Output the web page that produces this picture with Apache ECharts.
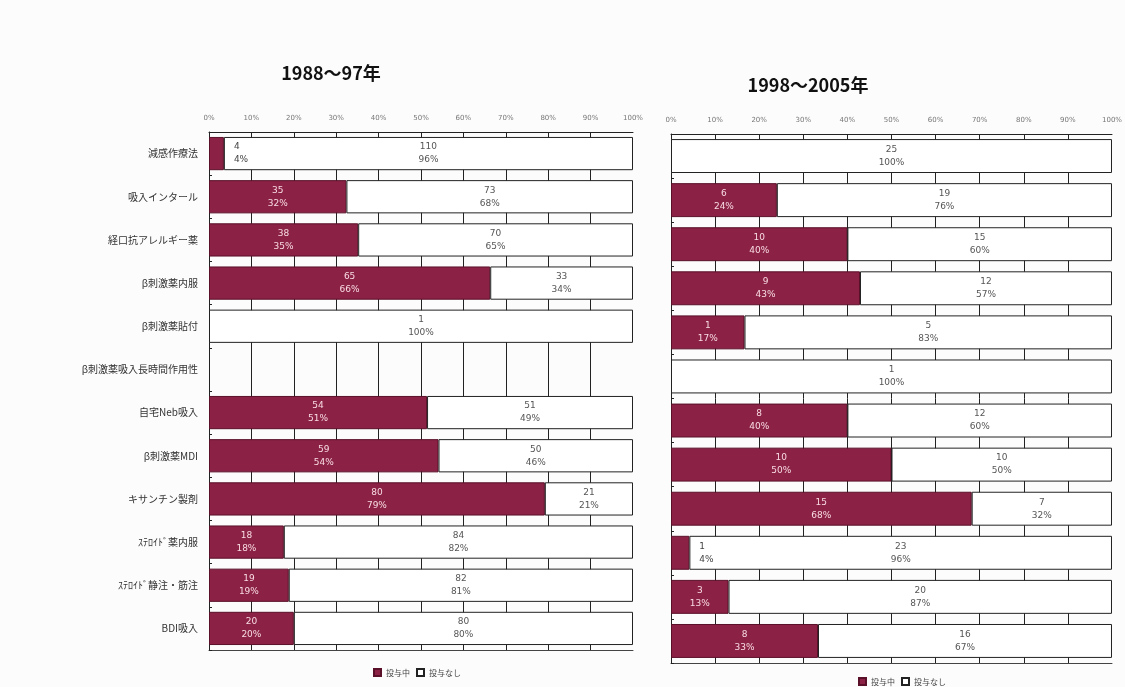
<!DOCTYPE html>
<html>
<head>
<meta charset="utf-8">
<script src="https://cdn.jsdelivr.net/npm/echarts@6/dist/echarts.min.js"></script>
<style>
  html, body { margin: 0; padding: 0; background: #fcfcfc; }
  #chart { width: 1125px; height: 687px; }
</style>
</head>
<body>
<div id="chart"></div>
<script>
// Drug classes (rows, top to bottom)
const categories = [
  '減感作療法',
  '吸入インタール',
  '経口抗アレルギー薬',
  'β刺激薬内服',
  'β刺激薬貼付',
  'β刺激薬吸入長時間作用性',
  '自宅Neb吸入',
  'β刺激薬MDI',
  'キサンチン製剤',
  'ｽﾃﾛｲﾄﾞ薬内服',
  'ｽﾃﾛｲﾄﾞ静注・筋注',
  'BDI吸入'
];

// Case counts, 1988–97
const earlyGiven = [4, 35, 38, 65, 0, 0, 54, 59, 80, 18, 19, 20];
const earlyNone  = [110, 73, 70, 33, 1, 0, 51, 50, 21, 84, 82, 80];

// Case counts, 1998–2005
const lateGiven = [0, 6, 10, 9, 1, 0, 8, 10, 15, 1, 3, 8];
const lateNone  = [25, 19, 15, 12, 5, 1, 12, 10, 7, 23, 20, 16];

const seriesNames = ['投与中', '投与なし'];
const periodTitles = ['1988〜97年', '1998〜2005年'];

const BAR_COLOR = '#8b2145';
const CJK = "'Noto Sans CJK JP', 'DejaVu Sans', sans-serif";

// Turn counts into 100%-stacked shares, keeping count and rounded percent for labels
function shareItems(part, other, dark) {
  return part.map((v, i) => {
    const total = v + other[i];
    const share = total ? v / total * 100 : 0;
    const pct = total ? Math.round(share) : 0;
    const item = { value: share, count: v, pct: pct };
    if (v === 0) {
      item.label = { show: false };
      item.itemStyle = { borderWidth: 0 };
    } else if (dark && pct < 8) {
      item.label = { position: 'right', distance: 10, color: '#444' };
    }
    return item;
  });
}

function barSeries(given, none, idx) {
  const fmt = p => p.data.count + '\n' + p.data.pct + '%';
  return [
    {
      name: seriesNames[0], type: 'bar', stack: 's' + idx,
      xAxisIndex: idx * 2, yAxisIndex: idx,
      barCategoryGap: '23%',
      itemStyle: { color: BAR_COLOR, borderColor: '#5a1029', borderWidth: 1 },
      label: { show: true, position: 'inside', formatter: fmt,
               color: '#f8dbe2', fontSize: 9, lineHeight: 13, fontFamily: 'DejaVu Sans' },
      data: shareItems(given, none, true)
    },
    {
      name: seriesNames[1], type: 'bar', stack: 's' + idx,
      xAxisIndex: idx * 2, yAxisIndex: idx,
      barCategoryGap: '23%',
      itemStyle: { color: '#ffffff', borderColor: '#222', borderWidth: 1 },
      label: { show: true, position: 'inside', formatter: fmt,
               color: '#555', fontSize: 9, lineHeight: 13, fontFamily: 'DejaVu Sans' },
      data: shareItems(none, given, false)
    }
  ];
}

function valueAxes(gridIndex) {
  return [
    {
      type: 'value', gridIndex: gridIndex, position: 'top',
      min: 0, max: 100, interval: 10,
      axisLine: { show: true, lineStyle: { color: '#222', width: 1 } },
      axisTick: { show: false },
      axisLabel: { formatter: '{value}%', fontSize: 7, color: '#777', margin: 10,
                   fontFamily: 'DejaVu Sans' },
      splitLine: { show: true, showMaxLine: false, lineStyle: { color: '#222', width: 1 } }
    },
    {
      type: 'value', gridIndex: gridIndex, position: 'bottom',
      min: 0, max: 100, interval: 10,
      axisLine: { show: true, lineStyle: { color: '#444', width: 1 } },
      axisTick: { show: false }, axisLabel: { show: false }, splitLine: { show: false }
    }
  ];
}

function categoryAxis(gridIndex, showLabels) {
  return {
    type: 'category', gridIndex: gridIndex, inverse: true, data: categories,
    axisLine: { show: true, lineStyle: { color: '#222', width: 1 } },
    axisTick: { show: true, inside: true, length: 3, lineStyle: { color: '#222' } },
    axisLabel: { show: showLabels, fontSize: 10, color: '#333', margin: 11, fontFamily: CJK }
  };
}

const chart = echarts.init(document.getElementById('chart'));
chart.setOption({
  backgroundColor: '#fcfcfc',
  animation: false,
  title: [
    { text: periodTitles[0], left: 326, top: 59, textAlign: 'center',
      textStyle: { fontSize: 18, fontWeight: 'bold', color: '#111',
                   fontFamily: "'Liberation Sans Narrow', 'Noto Sans CJK JP', sans-serif" } },
    { text: periodTitles[1], left: 803, top: 71, textAlign: 'center',
      textStyle: { fontSize: 18, fontWeight: 'bold', color: '#111',
                   fontFamily: "'Liberation Sans Narrow', 'Noto Sans CJK JP', sans-serif" } }
  ],
  legend: [
    { data: seriesNames, left: 368, top: 663, icon: 'rect', itemWidth: 7, itemHeight: 7,
      itemGap: 6, textStyle: { fontSize: 8, color: '#444', fontFamily: CJK } },
    { data: seriesNames, left: 853, top: 672, icon: 'rect', itemWidth: 7, itemHeight: 7,
      itemGap: 6, textStyle: { fontSize: 8, color: '#444', fontFamily: CJK } }
  ],
  grid: [
    { left: 209, top: 132, width: 424, height: 518 },
    { left: 671, top: 134, width: 446, height: 529 }
  ],
  xAxis: [...valueAxes(0), ...valueAxes(1)],
  yAxis: [categoryAxis(0, true), categoryAxis(1, false)],
  series: [...barSeries(earlyGiven, earlyNone, 0), ...barSeries(lateGiven, lateNone, 1)]
});
</script>
</body>
</html>
